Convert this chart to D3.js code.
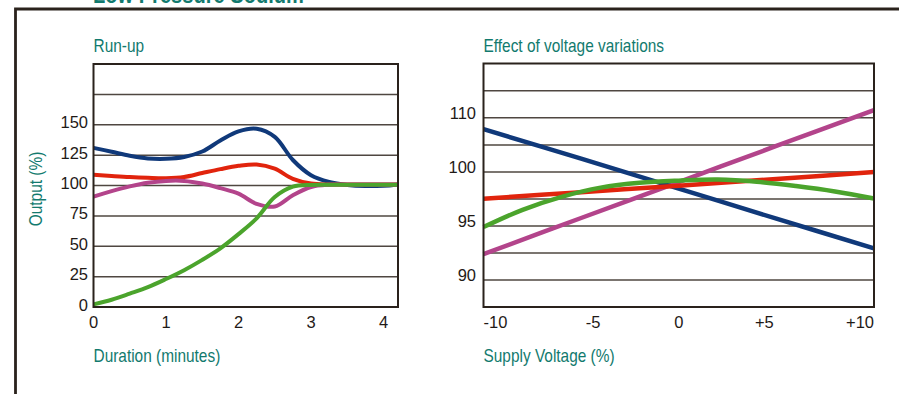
<!DOCTYPE html>
<html>
<head>
<meta charset="utf-8">
<script src="https://cdn.jsdelivr.net/npm/d3@7"></script>
<style>
  html, body { margin: 0; padding: 0; background: #fff; }
  svg { display: block; }
  .title { font-family: "Liberation Sans", Arial, sans-serif; fill: #127a6e; }
  .tick { font-family: "Liberation Sans", Arial, sans-serif; fill: #1f1a17; font-size: 16.5px; }
</style>
</head>
<body>
<svg id="chart" width="899" height="394"></svg>
<script>
// ---- Run-up (output % vs minutes after switch-on) ----
const runTimes   = [0, 0.25, 0.5, 0.75, 1, 1.25, 1.5, 1.75, 2, 2.25, 2.5, 2.75, 3, 3.25, 3.5, 3.75, 4, 4.2];
const runBlue    = [131, 127.8, 124.5, 122.3, 122, 123.5, 128, 137, 144.5, 146.7, 140, 121, 108.5, 103, 100.5, 99.6, 99.8, 100.6];
const runRed     = [108.8, 107.8, 106.9, 106.3, 106, 107, 110.3, 113.5, 116.2, 117.3, 113.8, 105.5, 101.6, 100.8, 100.8, 100.8, 100.8, 100.8];
const runMagenta = [90.9, 95.4, 99.3, 102.3, 103.8, 103.8, 101.6, 97.8, 93.3, 84.9, 82.7, 92, 98.8, 100.7, 100.8, 100.8, 100.8, 100.8];
const runGreen   = [2.2, 6, 11, 16.3, 23, 30.3, 38.8, 48.3, 60, 73, 90.5, 99, 100.5, 100.6, 100.6, 100.6, 100.6, 100.6];
const runYTicks  = [0, 25, 50, 75, 100, 125, 150];
const runYGrid   = [25, 50, 75, 100, 125, 150, 175];
const runXTicks  = [0, 1, 2, 3, 4];

// ---- Effect of voltage variations (output % vs supply voltage %) ----
const voltSteps   = [-10, -5, 0, 5, 10];
const voltBlue    = [107.9, 102.45, 98.46, 95.68, 92.93];
const voltMagenta = [92.4, 95.74, 99.07, 104.8, 111.4];
const voltRed     = [97.53, 98.13, 98.73, 99.35, 100];
const greenSteps  = [-10, -8, -6, -4, -2, 0, 2, 4, 6, 8, 10];
const voltGreen   = [94.9, 96.5, 97.7, 98.55, 99.0, 99.2, 99.3, 99.1, 98.7, 98.2, 97.55];
const voltYTicks  = [90, 95, 100, 110];
const voltYGrid   = [90, 92.5, 95, 97.5, 100, 105, 110, 115];
const voltXTicks  = [-10, -5, 0, 5, 10];
const voltXLabels = ["-10", "-5", "0", "+5", "+10"];

const COLORS = { blue: "#10397a", red: "#e1240d", magenta: "#b3448b", green: "#4ba42c" };
const GRID = "#4f4741", FRAME = "#2a221c";
const NARROW = 0.82; // horizontal squeeze for the condensed heading face

const svg = d3.select("#chart");

// condensed teal caption
function caption(parent, x, y, text, opts = {}) {
  return parent.append("text").attr("class", "title")
    .attr("font-size", opts.size || 18.8)
    .attr("font-weight", opts.weight || "normal")
    .attr("text-anchor", opts.anchor || "start")
    .attr("transform", opts.rotate
      ? `translate(${x},${y}) rotate(${opts.rotate}) scale(${NARROW},1)`
      : `translate(${x},${y}) scale(${NARROW},1)`)
    .text(text);
}

// outer panel border and the heading above it
caption(svg, 93, 2.5, "Low Pressure Sodium", { size: 24.5, weight: "bold" });
svg.append("path")
  .attr("d", d3.line()([[15.5, 394], [15.5, 9], [899, 9]]))
  .attr("fill", "none").attr("stroke", FRAME).attr("stroke-width", 2.8);

function panel(opts) {
  const g = svg.append("g");
  const { x, y, box } = opts;
  // gridlines
  g.selectAll("line.grid").data(opts.grid).join("line")
    .attr("x1", box.x0).attr("x2", box.x1)
    .attr("y1", d => y(d)).attr("y2", d => y(d))
    .attr("stroke", GRID).attr("stroke-width", 1.5);
  // series
  const line = d3.line().x(d => x(d[0])).y(d => y(d[1])).curve(d3.curveCatmullRom.alpha(0.5));
  opts.series.forEach(s => {
    g.append("path")
      .attr("d", line(s.xs.map((v, i) => [v, s.ys[i]])))
      .attr("fill", "none").attr("stroke", s.color)
      .attr("stroke-width", opts.lineWidth).attr("stroke-linecap", "butt");
  });
  // frame
  g.append("rect")
    .attr("x", box.x0).attr("y", box.y0)
    .attr("width", box.x1 - box.x0).attr("height", box.y1 - box.y0)
    .attr("fill", "none").attr("stroke", FRAME).attr("stroke-width", 2);
  // titles
  caption(g, box.x0, 52, opts.title);
  caption(g, box.x0, 362, opts.xTitle);
  return g;
}

// Run-up panel
const runBox = { x0: 93.5, x1: 398, y0: 64, y1: 307 };
const runX = d3.scaleLinear().domain([0, 4.2]).range([runBox.x0, runBox.x1]);
const runY = d3.scaleLinear().domain([0, 200]).range([runBox.y1, runBox.y0]);
const gRun = panel({
  x: runX, y: runY, box: runBox, grid: runYGrid, lineWidth: 4,
  title: "Run-up", xTitle: "Duration (minutes)",
  series: [
    { xs: runTimes, ys: runBlue, color: COLORS.blue },
    { xs: runTimes, ys: runRed, color: COLORS.red },
    { xs: runTimes, ys: runMagenta, color: COLORS.magenta },
    { xs: runTimes, ys: runGreen, color: COLORS.green }
  ]
});
gRun.selectAll("text.ty").data(runYTicks).join("text").attr("class", "tick ty")
  .attr("x", 88).attr("y", d => runY(d) + 3.5).attr("text-anchor", "end").text(d => d);
gRun.selectAll("text.tx").data(runXTicks).join("text").attr("class", "tick tx")
  .attr("x", d => runX(d)).attr("y", 328).attr("text-anchor", "middle").text(d => d);
caption(gRun, 42, 189, "Output (%)", { rotate: -90, anchor: "middle" });

// Voltage panel (finer spacing below 100 %, coarser above)
const voltBox = { x0: 483.5, x1: 874, y0: 63.5, y1: 307 };
const voltX = d3.scaleLinear().domain([-10, 10]).range([voltBox.x0, voltBox.x1]);
const voltY = d3.scaleLinear().domain([87.5, 100, 120]).range([voltBox.y1, 172, voltBox.y0]);
const gVolt = panel({
  x: voltX, y: voltY, box: voltBox, grid: voltYGrid, lineWidth: 4.5,
  title: "Effect of voltage variations", xTitle: "Supply Voltage (%)",
  series: [
    { xs: voltSteps, ys: voltMagenta, color: COLORS.magenta },
    { xs: voltSteps, ys: voltBlue, color: COLORS.blue },
    { xs: voltSteps, ys: voltRed, color: COLORS.red },
    { xs: greenSteps, ys: voltGreen, color: COLORS.green }
  ]
});
gVolt.selectAll("text.ty").data(voltYTicks).join("text").attr("class", "tick ty")
  .attr("x", 476).attr("y", d => voltY(d) + 1).attr("text-anchor", "end").text(d => d);
gVolt.selectAll("text.tx").data(voltXTicks).join("text").attr("class", "tick tx")
  .attr("x", d => voltX(d)).attr("y", 328)
  .attr("dx", d => (Math.abs(d) === 5 ? -Math.sign(d) * 12 : 0))
  .attr("text-anchor", d => d === -10 ? "start" : d === 10 ? "end" : "middle")
  .text((d, i) => voltXLabels[i]);
</script>
</body>
</html>
